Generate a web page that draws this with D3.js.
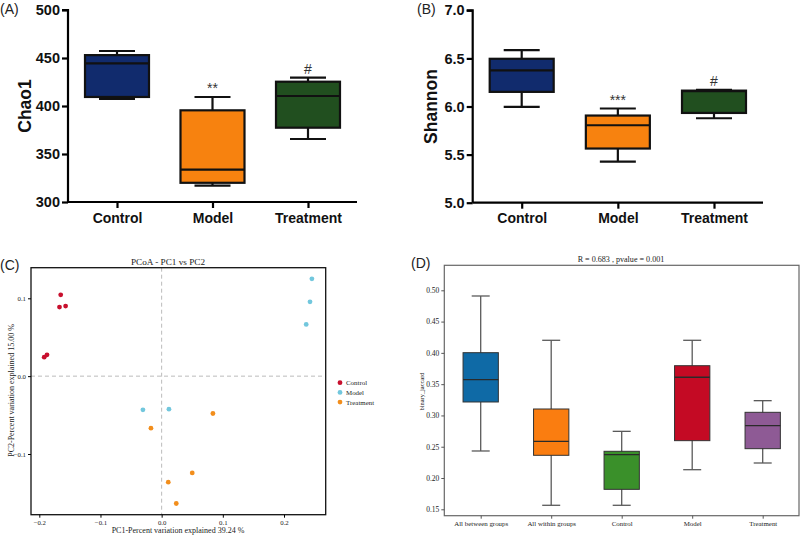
<!DOCTYPE html>
<html><head><meta charset="utf-8">
<script src="https://cdn.jsdelivr.net/npm/d3@7"></script>
<style>body{margin:0;background:#fff}svg{display:block}</style>
</head><body>
<svg id="c" width="800" height="535"></svg>
<script>
// ---- Panel A: Chao1 ----
const groupsAB = ["Control", "Model", "Treatment"];
const colorsAB = ["#112b6d", "#f7820f", "#214f1f"];
const chaoMin = [407.3, 317, 365.6];
const chaoQ1 = [409.4, 320, 377.4];
const chaoMed = [444.5, 333.7, 410.4];
const chaoQ3 = [453, 395.5, 425.3];
const chaoMax = [457.3, 409.4, 429.5];
const chaoSig = ["", "**", "#"];
const chaoTicks = [300, 350, 400, 450, 500];
// ---- Panel B: Shannon ----
const shanMin = [5.996, 5.427, 5.878];
const shanQ1 = [6.152, 5.563, 5.933];
const shanMed = [6.375, 5.805, 6.16];
const shanQ3 = [6.496, 5.906, 6.165];
const shanMax = [6.587, 5.979, 6.172];
const shanSig = ["", "***", "#"];
const shanTicks = [5.0, 5.5, 6.0, 6.5, 7.0];
// ---- Panel C: PCoA ----
const pcoaGroups = ["Control", "Model", "Treatment"];
const pcoaColors = ["#c8102e", "#72c7dd", "#f28e1c"];
const pc1Control = [-0.165, -0.167, -0.157, -0.192, -0.1874];
const pc2Control = [0.1045, 0.0887, 0.090, 0.0244, 0.0274];
const pc1Model = [0.2456, 0.2425, 0.2363, -0.0306, 0.0119];
const pc2Model = [0.125, 0.0955, 0.0664, -0.0433, -0.0424];
const pc1Treatment = [0.0838, -0.0175, 0.05, 0.0108, 0.0239];
const pc2Treatment = [-0.048, -0.0668, -0.1243, -0.1362, -0.1636];
const pc1Ticks = [-0.2, -0.1, 0.0, 0.1, 0.2];
const pc2Ticks = [-0.1, 0.0, 0.1];
// ---- Panel D: ANOSIM binary_jaccard ----
const groupsD = ["All between groups", "All within groups", "Control", "Model", "Treatment"];
const colorsD = ["#0f6aa6", "#fa7d10", "#3a902a", "#c40a24", "#8e5a95"];
const jacMin = [0.2432, 0.1564, 0.1564, 0.2133, 0.224];
const jacQ1 = [0.3215, 0.2363, 0.1819, 0.2597, 0.2469];
const jacMed = [0.3571, 0.2587, 0.2373, 0.361, 0.2836];
const jacQ3 = [0.4003, 0.3103, 0.2427, 0.3795, 0.305];
const jacMax = [0.4909, 0.4201, 0.2746, 0.4201, 0.3236];
const jacTicks = [0.15, 0.20, 0.25, 0.30, 0.35, 0.40, 0.45, 0.50];

const svg = d3.select("#c");
const SANS = "'Liberation Sans', Arial, sans-serif";
const SERIF = "'Liberation Serif', 'Times New Roman', serif";

function prismPanel(opts) {
  const g = svg.append("g");
  const x = d3.scalePoint().domain(groupsAB).range(opts.xr).padding(0);
  const y = d3.scaleLinear().domain(opts.dom).range(opts.yr);
  const bw = 64, cw = 36;
  const ya = d3.axisLeft(y).tickValues(opts.ticks).tickSize(6).tickFormat(opts.fmt);
  const yg = g.append("g").attr("transform", `translate(${opts.ax},0)`).call(ya);
  yg.select(".domain").attr("stroke-width", 2.2).attr("d", `M-6,${opts.yr[1]}H0V${opts.yr[0]}`);
  yg.selectAll(".tick line").attr("stroke-width", 2.2);
  yg.selectAll("text").attr("font-family", SANS).attr("font-weight", "bold").attr("font-size", 14.5).attr("fill", "#111").attr("x", -8);
  const xa = d3.axisBottom(x).tickSize(6);
  const xg = g.append("g").attr("transform", `translate(0,${opts.yr[0]})`).call(xa);
  xg.select(".domain").attr("stroke-width", 2.2).attr("d", `M${opts.ax},0H${opts.xend}`);
  xg.selectAll(".tick line").attr("stroke-width", 2.2);
  xg.selectAll("text").attr("font-family", SANS).attr("font-weight", "bold").attr("font-size", 14).attr("fill", "#111").attr("dy", "0.84em");
  groupsAB.forEach((gr, i) => {
    const cx = x(gr);
    const bx = g.append("g");
    bx.append("line").attr("x1", cx).attr("x2", cx).attr("y1", y(opts.mx[i])).attr("y2", y(opts.q3[i])).attr("stroke", "#111").attr("stroke-width", 2.2);
    bx.append("line").attr("x1", cx).attr("x2", cx).attr("y1", y(opts.mn[i])).attr("y2", y(opts.q1[i])).attr("stroke", "#111").attr("stroke-width", 2.2);
    bx.append("line").attr("x1", cx - cw / 2).attr("x2", cx + cw / 2).attr("y1", y(opts.mx[i])).attr("y2", y(opts.mx[i])).attr("stroke", "#111").attr("stroke-width", 2.2);
    bx.append("line").attr("x1", cx - cw / 2).attr("x2", cx + cw / 2).attr("y1", y(opts.mn[i])).attr("y2", y(opts.mn[i])).attr("stroke", "#111").attr("stroke-width", 2.2);
    bx.append("rect").attr("x", cx - bw / 2).attr("width", bw).attr("y", y(opts.q3[i])).attr("height", y(opts.q1[i]) - y(opts.q3[i]))
      .attr("fill", colorsAB[i]).attr("stroke", "#111").attr("stroke-width", 2.2);
    bx.append("line").attr("x1", cx - bw / 2).attr("x2", cx + bw / 2).attr("y1", y(opts.md[i])).attr("y2", y(opts.md[i])).attr("stroke", "#111").attr("stroke-width", 2.2);
    if (opts.sig[i]) {
      g.append("text").attr("x", cx).attr("y", y(opts.mx[i]) - 4).attr("text-anchor", "middle")
        .attr("font-family", SANS).attr("font-size", 14).attr("fill", "#333").text(opts.sig[i]);
    }
  });
  g.append("text").attr("transform", `translate(${opts.lx},${(opts.yr[0] + opts.yr[1]) / 2}) rotate(-90)`)
    .attr("text-anchor", "middle").attr("dy", "0.35em").attr("font-family", SANS).attr("font-weight", "bold").attr("font-size", 17.5).attr("fill", "#111").text(opts.label);
  svg.append("text").attr("x", opts.tagx).attr("y", 14).attr("font-family", SANS).attr("font-size", 14).attr("fill", "#222").text(opts.tag);
}

prismPanel({ xr: [117, 308], yr: [202, 10], dom: [300, 500], ax: 68, xend: 357, ticks: chaoTicks, fmt: d3.format("d"),
  mn: chaoMin, q1: chaoQ1, md: chaoMed, q3: chaoQ3, mx: chaoMax, sig: chaoSig, label: "Chao1", lx: 25, tag: "(A)", tagx: 0 });
prismPanel({ xr: [521.7, 714], yr: [202.7, 10.3], dom: [5.0, 7.0], ax: 472.7, xend: 763, ticks: shanTicks, fmt: d3.format(".1f"),
  mn: shanMin, q1: shanQ1, md: shanMed, q3: shanQ3, mx: shanMax, sig: shanSig, label: "Shannon", lx: 431, tag: "(B)", tagx: 417 });

// ---- Panel C ----
(function () {
  const g = svg.append("g");
  const L = 31, R = 325.7, T = 267.7, B = 514.7;
  const x = d3.scaleLinear().domain([-0.2, 0.2]).range([39.3, 284]);
  const y = d3.scaleLinear().domain([-0.1, 0.1]).range([454, 298.3]);
  g.append("line").attr("x1", x(0)).attr("x2", x(0)).attr("y1", T).attr("y2", B).attr("stroke", "#bbb").attr("stroke-dasharray", "4,3");
  g.append("line").attr("x1", L).attr("x2", R).attr("y1", y(0)).attr("y2", y(0)).attr("stroke", "#bbb").attr("stroke-dasharray", "4,3");
  const series = [[pc1Control, pc2Control], [pc1Model, pc2Model], [pc1Treatment, pc2Treatment]];
  series.forEach((s, i) => {
    s[0].forEach((v, j) => {
      g.append("circle").attr("cx", x(v)).attr("cy", y(s[1][j])).attr("r", 2.4).attr("fill", pcoaColors[i]);
    });
  });
  g.append("rect").attr("x", L).attr("y", T).attr("width", R - L).attr("height", B - T).attr("fill", "none").attr("stroke", "#111").attr("stroke-width", 1.3);
  const xa = d3.axisBottom(x).tickValues(pc1Ticks).tickSize(3).tickFormat(d3.format(".1f"));
  const xg = g.append("g").attr("transform", `translate(0,${B})`).call(xa);
  xg.select(".domain").remove();
  xg.selectAll("text").attr("font-family", SERIF).attr("font-size", 6.8).attr("fill", "#222").attr("y", 5).attr("dy", "0.71em");
  const ya = d3.axisLeft(y).tickValues(pc2Ticks).tickSize(3).tickFormat(d3.format(".1f"));
  const yg = g.append("g").attr("transform", `translate(${L},0)`).call(ya);
  yg.select(".domain").remove();
  yg.selectAll("text").attr("font-family", SERIF).attr("font-size", 6.8).attr("fill", "#222").attr("x", -5);
  g.append("text").attr("x", 168).attr("y", 265).attr("text-anchor", "middle").attr("font-family", SERIF).attr("font-size", 9.2).attr("fill", "#222").text("PCoA - PC1 vs PC2");
  g.append("text").attr("x", 178).attr("y", 532.5).attr("text-anchor", "middle").attr("font-family", SERIF).attr("font-size", 8).attr("fill", "#222").text("PC1-Percent variation explained 39.24 %");
  g.append("text").attr("transform", `translate(11.5,390.5) rotate(-90)`).attr("text-anchor", "middle").attr("dy", "0.35em")
    .attr("font-family", SERIF).attr("font-size", 8).attr("fill", "#222").text("PC2-Percent variation explained 15.00 %");
  pcoaGroups.forEach((n, i) => {
    g.append("circle").attr("cx", 340).attr("cy", 382.7 + i * 9.7).attr("r", 2.4).attr("fill", pcoaColors[i]);
    g.append("text").attr("x", 346).attr("y", 382.7 + i * 9.7).attr("dy", "0.35em").attr("font-family", SERIF).attr("font-size", 6.9).attr("fill", "#222").text(n);
  });
  svg.append("text").attr("x", 0).attr("y", 270).attr("font-family", SANS).attr("font-size", 14).attr("fill", "#222").text("(C)");
})();

// ---- Panel D ----
(function () {
  const g = svg.append("g");
  const L = 444.3, R = 799, T = 265.3, B = 515.7;
  const x = d3.scalePoint().domain(groupsD).range([480.7, 762.7]).padding(0);
  const y = d3.scaleLinear().domain([0.15, 0.5]).range([509.3, 290.3]);
  const bw = 35.3, cw = 18;
  const st = "#5a5a5a";
  groupsD.forEach((gr, i) => {
    const cx = x(gr);
    g.append("line").attr("x1", cx).attr("x2", cx).attr("y1", y(jacMax[i])).attr("y2", y(jacMin[i])).attr("stroke", st).attr("stroke-width", 1.3);
    [jacMax[i], jacMin[i]].forEach(v => g.append("line").attr("x1", cx - cw / 2).attr("x2", cx + cw / 2).attr("y1", y(v)).attr("y2", y(v)).attr("stroke", st).attr("stroke-width", 1.3));
    g.append("rect").attr("x", cx - bw / 2).attr("width", bw).attr("y", y(jacQ3[i])).attr("height", y(jacQ1[i]) - y(jacQ3[i]))
      .attr("fill", colorsD[i]).attr("stroke", "#333").attr("stroke-width", 1);
    g.append("line").attr("x1", cx - bw / 2).attr("x2", cx + bw / 2).attr("y1", y(jacMed[i])).attr("y2", y(jacMed[i])).attr("stroke", "#2a2a2a").attr("stroke-width", 1.3);
  });
  g.append("rect").attr("x", L).attr("y", T).attr("width", R - L).attr("height", B - T).attr("fill", "none").attr("stroke", "#666").attr("stroke-width", 1.2);
  const ya = d3.axisLeft(y).tickValues(jacTicks).tickSize(3).tickFormat(d3.format(".2f"));
  const yg = g.append("g").attr("transform", `translate(${L},0)`).call(ya);
  yg.select(".domain").remove();
  yg.selectAll(".tick line").attr("stroke", "#555");
  yg.selectAll("text").attr("font-family", SERIF).attr("font-size", 7.5).attr("fill", "#222").attr("x", -5);
  const xa = d3.axisBottom(x).tickSize(3);
  const xg = g.append("g").attr("transform", `translate(0,${B})`).call(xa);
  xg.select(".domain").remove();
  xg.selectAll(".tick line").attr("stroke", "#555");
  xg.selectAll("text").attr("font-family", SERIF).attr("font-size", 6.9).attr("fill", "#222").attr("y", 5).attr("dy", "0.71em");
  g.append("text").attr("x", 621).attr("y", 262).attr("text-anchor", "middle").attr("font-family", SERIF).attr("font-size", 8.1).attr("fill", "#222").text("R = 0.683 , pvalue = 0.001");
  g.append("text").attr("transform", `translate(421.5,391.5) rotate(-90)`).attr("text-anchor", "middle").attr("dy", "0.35em")
    .attr("font-family", SERIF).attr("font-size", 6.4).attr("fill", "#222").text("binary_jaccard");
  svg.append("text").attr("x", 411).attr("y", 268).attr("font-family", SANS).attr("font-size", 14).attr("fill", "#222").text("(D)");
})();
</script>
</body></html>
